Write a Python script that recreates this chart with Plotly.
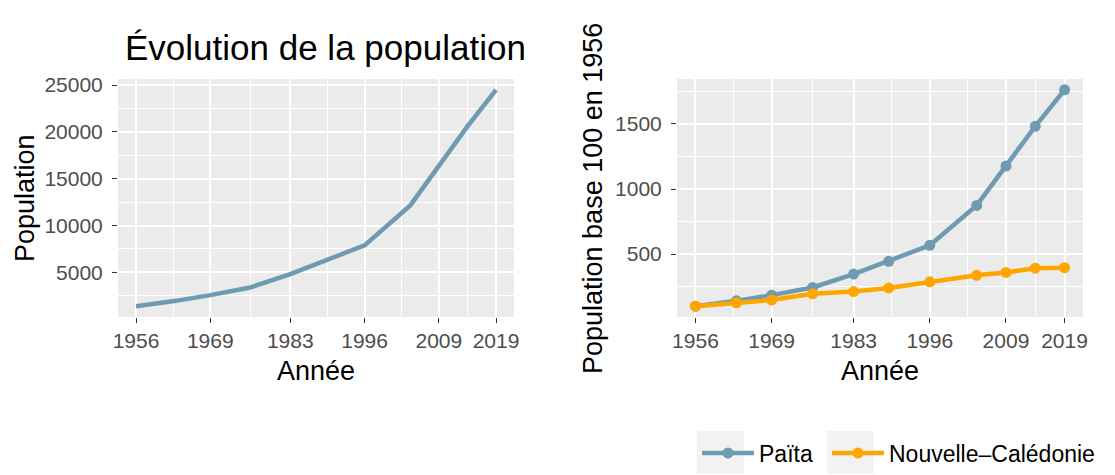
import plotly.graph_objects as go

# ---- data ----
annees = [1956, 1963, 1969, 1976, 1983, 1989, 1996, 2004, 2009, 2014, 2019]
pop_paita = [1390, 1960, 2570, 3390, 4820, 6180, 7890, 12150, 16350, 20600, 24500]
indice_nc = [100, 126, 147, 195, 212, 240, 287, 337, 359, 392, 396]
x_ticks = [1956, 1969, 1983, 1996, 2009, 2019]
x_minor = [1962.5, 1976, 1989.5, 2002.5, 2014]
y1_ticks = [5000, 10000, 15000, 20000, 25000]
y1_minor = [2500, 7500, 12500, 17500, 22500]
y2_ticks = [500, 1000, 1500]
y2_minor = [250, 750, 1250, 1750]

indice_paita = [p / pop_paita[0] * 100 for p in pop_paita]

OFF = 8                      # page body margin of the browser
W, H = 1115 - OFF, 475 - OFF  # figure size
B = 45                       # bottom margin reserved for the legend
C_PAITA = "#6E9BB2"
C_NC = "#FFA500"
FONT = "Liberation Sans"

def px(v):
    # screen pixel from left -> paper fraction
    return (v - OFF) / W

def py(v):
    # screen pixel from top -> paper fraction (paper area is H - B tall)
    return (H - B - (v - OFF)) / (H - B)

fig = go.Figure()

fig.add_trace(go.Scatter(x=annees, y=pop_paita, mode="lines",
                         line=dict(color=C_PAITA, width=4.5),
                         showlegend=False, xaxis="x", yaxis="y"))
fig.add_trace(go.Scatter(x=annees, y=indice_paita, mode="lines+markers", name="Païta",
                         line=dict(color=C_PAITA, width=4.5),
                         marker=dict(color=C_PAITA, size=11),
                         xaxis="x2", yaxis="y2", legend="legend"))
fig.add_trace(go.Scatter(x=annees, y=indice_nc, mode="lines+markers", name="Nouvelle–Calédonie",
                         line=dict(color=C_NC, width=4.5),
                         marker=dict(color=C_NC, size=11),
                         xaxis="x2", yaxis="y2", legend="legend2"))

def xr(lo, hi):
    d = (hi - lo) * 0.05
    return [lo - d, hi + d]

tickfont = dict(family=FONT, size=21, color="#4D4D4D")
common_x = dict(tickmode="array", tickvals=x_ticks, ticks="outside", ticklen=5,
                tickwidth=1.3, tickcolor="#333333", showgrid=True, gridcolor="white",
                gridwidth=1.6, zeroline=False, showline=False, automargin=False,
                tickfont=tickfont, range=xr(min(annees), max(annees)),
                minor=dict(tickmode="array", tickvals=x_minor, showgrid=True,
                           gridcolor="white", gridwidth=0.8, ticks=""))

def yaxis(ticks, minor, rng, anchor):
    return dict(domain=[py(317), py(79)], anchor=anchor, tickmode="array",
                tickvals=ticks, ticktext=[str(t) for t in ticks],
                ticks="outside", ticklen=5, tickwidth=1.3, tickcolor="#333333",
                showgrid=True, gridcolor="white", gridwidth=1.6, zeroline=False,
                automargin=False, tickfont=tickfont, range=rng, ticklabelstandoff=5,
                minor=dict(tickmode="array", tickvals=minor, showgrid=True,
                           gridcolor="white", gridwidth=0.8, ticks=""))

def legend(x_screen):
    return dict(orientation="h", xref="container", yref="container",
                x=(x_screen - OFF) / W, xanchor="left", y=(475 - 453) / H,
                yanchor="middle", font=dict(family=FONT, size=23, color="black"),
                bgcolor="rgba(0,0,0,0)", itemwidth=52, tracegroupgap=0)

fig.update_layout(
    xaxis=dict(common_x, domain=[px(118), px(514)], anchor="y"),
    xaxis2=dict(common_x, domain=[px(677), px(1083)], anchor="y2"),
    yaxis=yaxis(y1_ticks, y1_minor, xr(min(pop_paita), max(pop_paita)), "x"),
    yaxis2=yaxis(y2_ticks, y2_minor,
                 xr(min(min(indice_paita), min(indice_nc)),
                    max(max(indice_paita), max(indice_nc))), "x2"),
    plot_bgcolor="#EBEBEB",
    paper_bgcolor="white",
    width=W, height=H,
    margin=dict(l=0, r=0, t=0, b=B, autoexpand=False),
    font=dict(family=FONT, color="black"),
    legend=legend(697),
    legend2=legend(827),
)

# grey legend key backgrounds (ggplot style)
for x0 in (697, 827):
    fig.add_shape(type="rect", xref="paper", yref="paper",
                  x0=px(x0), x1=px(x0 + 47), y0=py(474), y1=py(431),
                  fillcolor="#F2F2F2", line=dict(width=0), layer="below")

annots = [
    dict(text="Évolution de la population", x=px(123), y=py(47), xanchor="left",
         yanchor="middle", font=dict(size=35, color="black")),
    dict(text="Population", x=px(25), y=py(198), textangle=-90, xanchor="center",
         yanchor="middle", font=dict(size=27, color="black")),
    dict(text="Population base 100 en 1956", x=px(593), y=py(199), textangle=-90,
         xanchor="center", yanchor="middle", font=dict(size=27, color="black")),
    dict(text="Année", x=px(316), y=py(371), xanchor="center", yanchor="middle",
         font=dict(size=27, color="black")),
    dict(text="Année", x=px(880), y=py(371), xanchor="center", yanchor="middle",
         font=dict(size=27, color="black")),
]
for a in annots:
    a.update(xref="paper", yref="paper", showarrow=False)
fig.update_layout(annotations=annots)

fig.write_html("out.html")
